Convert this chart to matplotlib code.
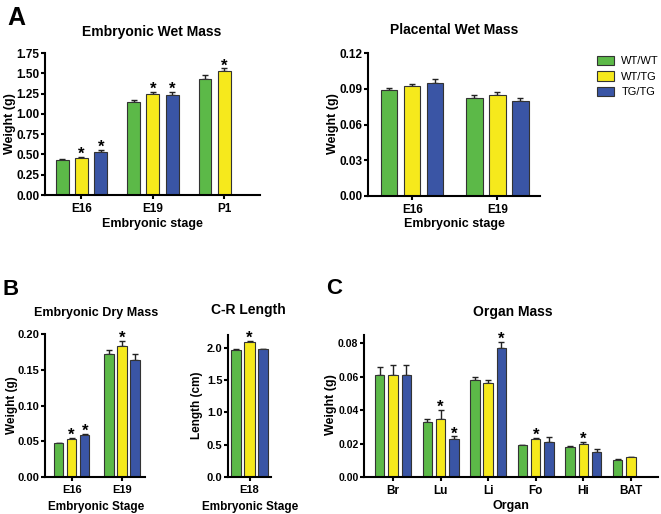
import numpy as np
import matplotlib
matplotlib.use("Agg")
import matplotlib.pyplot as plt
from matplotlib.patches import Patch

plt.rcParams["font.family"] = ["Liberation Sans", "DejaVu Sans"]
plt.rcParams["font.weight"] = "bold"

W, H = 661, 514

genotypes = ["WT/WT", "WT/TG", "TG/TG"]
colors = ["#5cb948", "#f6e91c", "#3a55a5"]

# A: embryonic wet mass
wet_stages = ["E16", "E19", "P1"]
wet_wtwt = [0.432, 1.145, 1.433]
wet_wttg = [0.462, 1.243, 1.530]
wet_tgtg = [0.530, 1.227, np.nan]
wet_wtwt_err = [0.006, 0.025, 0.045]
wet_wttg_err = [0.010, 0.027, 0.030]
wet_tgtg_err = [0.025, 0.045, np.nan]
wet_star = [[False, False, False], [True, True, True], [True, True, False]]

# A: placental wet mass
plac_stages = ["E16", "E19"]
plac_wtwt = [0.089, 0.082]
plac_wttg = [0.0925, 0.0845]
plac_tgtg = [0.095, 0.080]
plac_wtwt_err = [0.002, 0.003]
plac_wttg_err = [0.0015, 0.0025]
plac_tgtg_err = [0.003, 0.002]

# B: embryonic dry mass
dry_stages = ["E16", "E19"]
dry_wtwt = [0.047, 0.172]
dry_wttg = [0.053, 0.183]
dry_tgtg = [0.059, 0.163]
dry_wtwt_err = [0.0005, 0.006]
dry_wttg_err = [0.0015, 0.007]
dry_tgtg_err = [0.0015, 0.0095]
dry_star = [[False, False], [True, True], [True, False]]

# B: crown-rump length
cr_stages = ["E18"]
cr_wtwt = [1.972]
cr_wttg = [2.088]
cr_tgtg = [1.985]
cr_wtwt_err = [0.015]
cr_wttg_err = [0.02]
cr_tgtg_err = [0.0]
cr_star = [[False], [True], [False]]

# C: organ mass
organs = ["Br", "Lu", "Li", "Fo", "Hi", "BAT"]
org_wtwt = [0.061, 0.033, 0.058, 0.019, 0.018, 0.010]
org_wttg = [0.061, 0.035, 0.056, 0.023, 0.020, 0.0117]
org_tgtg = [0.061, 0.023, 0.077, 0.021, 0.015, np.nan]
org_wtwt_err = [0.0046, 0.002, 0.0019, 0.0004, 0.0008, 0.001]
org_wttg_err = [0.006, 0.005, 0.002, 0.0004, 0.001, 0.0002]
org_tgtg_err = [0.006, 0.0014, 0.0038, 0.0028, 0.002, np.nan]
org_star = [[False] * 6,
            [False, True, False, True, True, False],
            [False, True, True, False, False, False]]


def px(x, y):
    return x / W, 1 - y / H


def make_ax(fig, x0, y0, x1, y1):
    ax = fig.add_axes([x0 / W, 1 - y1 / H, (x1 - x0) / W, (y1 - y0) / H])
    for s in ["top", "right"]:
        ax.spines[s].set_visible(False)
    for s in ["left", "bottom"]:
        ax.spines[s].set_linewidth(1.5)
    ax.tick_params(width=1.5, length=3, direction="out")
    ax.tick_params(axis="y", pad=1)
    ax.tick_params(axis="x", pad=3)
    return ax


def bars(ax, cats, vals, errs, stars, offset, width, fs):
    x = np.arange(len(cats))
    for i in range(3):
        v = np.array(vals[i], dtype=float)
        e = np.array(errs[i], dtype=float)
        ok = ~np.isnan(v)
        xs = x[ok] + (i - 1) * offset
        ax.bar(xs, v[ok], width, color=colors[i], edgecolor="#333333",
               linewidth=0.8, zorder=2)
        ax.errorbar(xs, v[ok], yerr=[np.zeros(ok.sum()), e[ok]], fmt="none",
                    ecolor="#222222", elinewidth=1, capsize=2.5, capthick=1,
                    zorder=1)
        if stars is not None:
            for j in np.where(ok)[0]:
                if stars[i][j]:
                    ax.annotate("*", (x[j] + (i - 1) * offset, v[j] + e[j]),
                                xytext=(0, -1.5), textcoords="offset points",
                                ha="center", va="baseline", fontsize=12)
    ax.set_xticks(x)
    ax.set_xticklabels(cats, fontsize=fs)


fig = plt.figure(figsize=(W / 100, H / 100), dpi=100)

# A left
ax = make_ax(fig, 45, 53, 260, 195)
bars(ax, wet_stages, [wet_wtwt, wet_wttg, wet_tgtg],
     [wet_wtwt_err, wet_wttg_err, wet_tgtg_err], wet_star, 0.27, 0.18, 8.5)
ax.set_xlim(-0.51, 2.5)
ax.set_ylim(0, 1.75)
ax.set_yticks(np.arange(0, 1.76, 0.25))
ax.set_yticklabels([f"{t:.2f}" for t in np.arange(0, 1.76, 0.25)], fontsize=8.5)
fig.text(*px(152, 32), "Embryonic Wet Mass", ha="center", va="center", fontsize=10)
fig.text(*px(152, 224), "Embryonic stage", ha="center", va="center", fontsize=9)
fig.text(*px(10, 124), "Weight (g)", ha="center", va="center", rotation=90, fontsize=9)

# A right
ax = make_ax(fig, 368, 53, 540, 196)
bars(ax, plac_stages, [plac_wtwt, plac_wttg, plac_tgtg],
     [plac_wtwt_err, plac_wttg_err, plac_tgtg_err], None, 0.27, 0.19, 8.5)
ax.set_xlim(-0.52, 1.5)
ax.set_ylim(0, 0.12)
ax.set_yticks(np.arange(0, 0.121, 0.03))
ax.set_yticklabels([f"{t:.2f}" for t in np.arange(0, 0.121, 0.03)], fontsize=8.5)
fig.text(*px(454, 30), "Placental Wet Mass", ha="center", va="center", fontsize=10)
fig.text(*px(454, 224), "Embryonic stage", ha="center", va="center", fontsize=9)
fig.text(*px(333, 124), "Weight (g)", ha="center", va="center", rotation=90, fontsize=9)

handles = [Patch(facecolor=c, edgecolor="#333333", linewidth=0.8) for c in colors]
fig.legend(handles, genotypes, loc="upper left", bbox_to_anchor=px(597, 56),
           frameon=False, borderpad=0, borderaxespad=0, handlelength=1.5,
           handleheight=0.9, handletextpad=0.7, labelspacing=0.45,
           prop={"weight": "normal", "size": 8})

# B left
ax = make_ax(fig, 45, 334, 145, 477)
bars(ax, dry_stages, [dry_wtwt, dry_wttg, dry_tgtg],
     [dry_wtwt_err, dry_wttg_err, dry_tgtg_err], dry_star, 0.26, 0.19, 8)
ax.set_xlim(-0.53, 1.46)
ax.set_ylim(0, 0.20)
ax.set_yticks(np.arange(0, 0.201, 0.05))
ax.set_yticklabels([f"{t:.2f}" for t in np.arange(0, 0.201, 0.05)], fontsize=8)
fig.text(*px(96, 313), "Embryonic Dry Mass", ha="center", va="center", fontsize=9)
fig.text(*px(96, 507), "Embryonic Stage", ha="center", va="center", fontsize=8.5)
fig.text(*px(12, 405), "Weight (g)", ha="center", va="center", rotation=90, fontsize=8.5)

# B middle
ax = make_ax(fig, 228, 335, 271, 477)
bars(ax, cr_stages, [cr_wtwt, cr_wttg, cr_tgtg],
     [cr_wtwt_err, cr_wttg_err, cr_tgtg_err], cr_star, 0.31, 0.245, 8)
ax.set_xlim(-0.5, 0.5)
ax.set_ylim(0, 2.2)
ax.set_yticks(np.arange(0, 2.01, 0.5))
ax.set_yticklabels([f"{t:.1f}" for t in np.arange(0, 2.01, 0.5)], fontsize=8)
fig.text(*px(248, 310), "C-R Length", ha="center", va="center", fontsize=10)
fig.text(*px(250, 507), "Embryonic Stage", ha="center", va="center", fontsize=8.5)
fig.text(*px(197, 405), "Length (cm)", ha="center", va="center", rotation=90, fontsize=8.5)

# C
ax = make_ax(fig, 364, 335, 658, 477)
bars(ax, organs, [org_wtwt, org_wttg, org_tgtg],
     [org_wtwt_err, org_wttg_err, org_tgtg_err], org_star, 0.28, 0.2, 8.5)
ax.set_xlim(-0.61, 5.57)
ax.set_ylim(0, 0.085)
ax.set_yticks(np.arange(0, 0.081, 0.02))
ax.set_yticklabels([f"{t:.2f}" for t in np.arange(0, 0.081, 0.02)], fontsize=7.5)
fig.text(*px(513, 312), "Organ Mass", ha="center", va="center", fontsize=10)
fig.text(*px(511, 506), "Organ", ha="center", va="center", fontsize=9)
fig.text(*px(331, 405), "Weight (g)", ha="center", va="center", rotation=90, fontsize=9)

# panel letters
fig.text(*px(7, 25), "A", fontsize=18, va="baseline")
fig.text(*px(2, 295), "B", fontsize=16, va="baseline")
fig.text(*px(326, 294), "C", fontsize=16, va="baseline")

fig.savefig("out.png", dpi=100)
